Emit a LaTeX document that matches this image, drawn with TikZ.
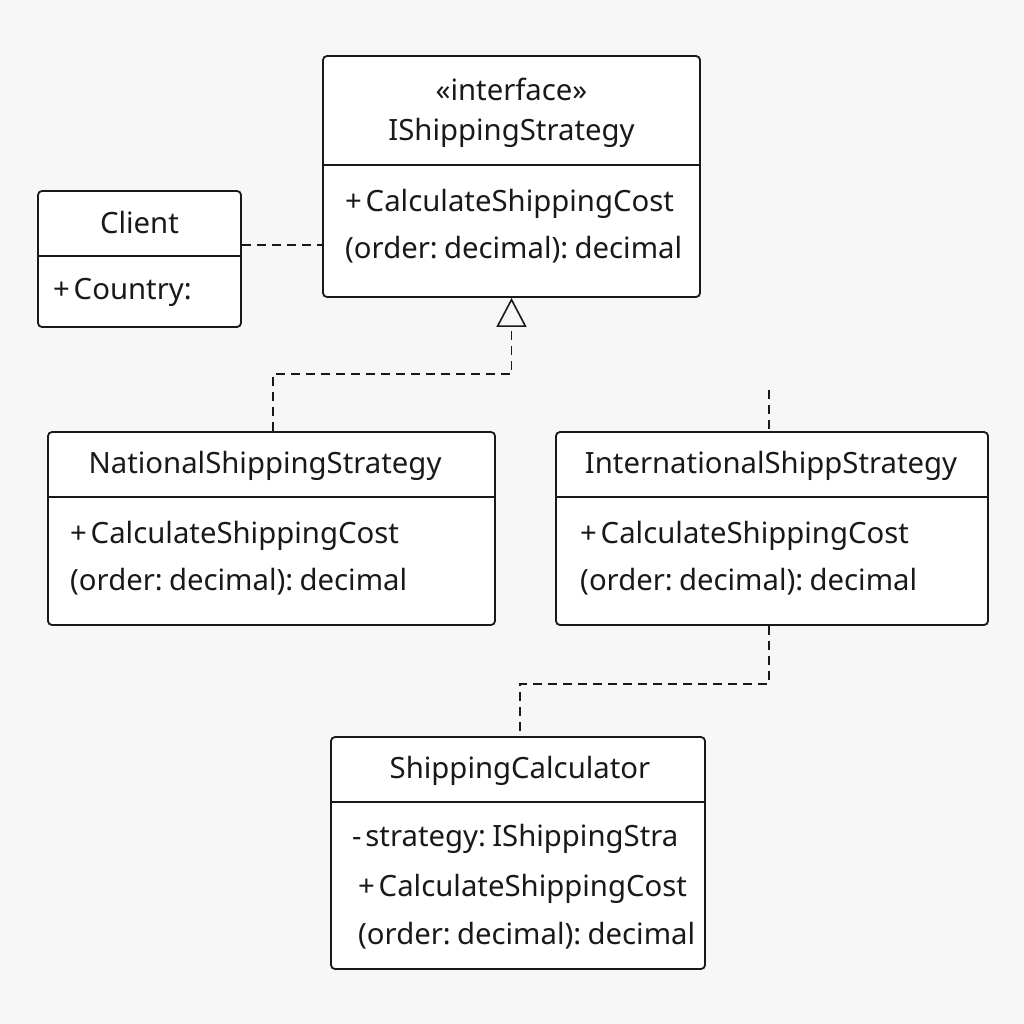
\documentclass[tikz,border=0pt]{standalone}
\usepackage{fontspec}
\setmainfont[WordSpace=0.5]{Noto Sans}
\usepackage{tikz}
\usetikzlibrary{arrows.meta}

\definecolor{bgcol}{RGB}{247,247,247}
\definecolor{inkcol}{RGB}{25,25,25}

\tikzset{
  classbox/.style={draw=inkcol, fill=white, line width=1.8pt, rounded corners=4pt, inner sep=0pt},
  sepline/.style={draw=inkcol, line width=1.3pt},
  txt/.style={inner sep=0pt, text=inkcol, font=\fontsize{29.3}{34}\selectfont},
  dep/.style={draw=inkcol, line width=1.6pt, dash pattern=on 9pt off 6pt},
  realize/.style={dep, -{Triangle[open, length=29pt, width=30pt, line width=1.6pt]}}
}

\begin{document}
\begin{tikzpicture}[x=1pt, y=-1pt]

  % Canvas: 1024 x 1024, origin top left, y grows downward
  \fill[bgcol] (0,0) rectangle (1024,1024);
  \useasboundingbox (0,0) rectangle (1024,1024);

  % --- Interface (top) ---
  \node[classbox, minimum width=377pt, minimum height=241pt] (iface) at (511.5,176.5) {};
  \draw[sepline] (iface.west |- 0,165) -- (iface.east |- 0,165);
  \node[txt] (iface-st) at (511.5,89) {«interface»};
  \node[txt] (iface-name) at (511.5,133) {IShippingStrategy};
  \node[txt, anchor=west] (iface-op1) at (345,204) {+ CalculateShippingCost};
  \node[txt, anchor=west] (iface-op2) at (345,250) {(order: decimal): decimal};

  % --- Client (left) ---
  \node[classbox, minimum width=203pt, minimum height=136pt] (client) at (139.5,259) {};
  \draw[sepline] (client.west |- 0,256) -- (client.east |- 0,256);
  \node[txt] (client-name) at (139.5,223) {Client};
  \node[txt, anchor=west] (client-attr) at (53,292) {+ Country:};

  % --- National strategy ---
  \node[classbox, minimum width=447pt, minimum height=193pt] (natl) at (271.5,528.5) {};
  \draw[sepline] (natl.west |- 0,497) -- (natl.east |- 0,497);
  \node[txt] (natl-name) at (265,466) {NationalShippingStrategy};
  \node[txt, anchor=west] (natl-op1) at (70,536) {+ CalculateShippingCost};
  \node[txt, anchor=west] (natl-op2) at (70,582) {(order: decimal): decimal};

  % --- International strategy ---
  \node[classbox, minimum width=432pt, minimum height=193pt] (intl) at (772,528.5) {};
  \draw[sepline] (intl.west |- 0,497) -- (intl.east |- 0,497);
  \node[txt] (intl-name) at (771,466) {InternationalShippStrategy};
  \node[txt, anchor=west] (intl-op1) at (580,536) {+ CalculateShippingCost};
  \node[txt, anchor=west] (intl-op2) at (580,582) {(order: decimal): decimal};

  % --- Shipping calculator (bottom) ---
  \node[classbox, minimum width=374pt, minimum height=232pt] (calc) at (518,853) {};
  \draw[sepline] (calc.west |- 0,802) -- (calc.east |- 0,802);
  \node[txt] (calc-name) at (520,771) {ShippingCalculator};
  \node[txt, anchor=west] (calc-attr) at (352,839) {- strategy: IShippingStra};
  \node[txt, anchor=west] (calc-op1) at (358,889) {+ CalculateShippingCost};
  \node[txt, anchor=west] (calc-op2) at (358,936) {(order: decimal): decimal};

  % --- Connectors ---
  % client uses the interface
  \draw[dep] ([yshift=14pt]client.east) -- ([yshift=14pt]client.east -| iface.west);
  % national realizes the interface
  \draw[realize] ([xshift=1.5pt]natl.north) -- ++(0,-57) -| (iface.south);
  % loose stub above international
  \coordinate (intl-stub) at (769,390);
  \draw[dep] (intl-stub) -- (intl-stub |- intl.north);
  % international down to the calculator
  \draw[dep] ([xshift=-3pt]intl.south) -- ++(0,58) -| ([xshift=2pt]calc.north);

\end{tikzpicture}
\end{document}
